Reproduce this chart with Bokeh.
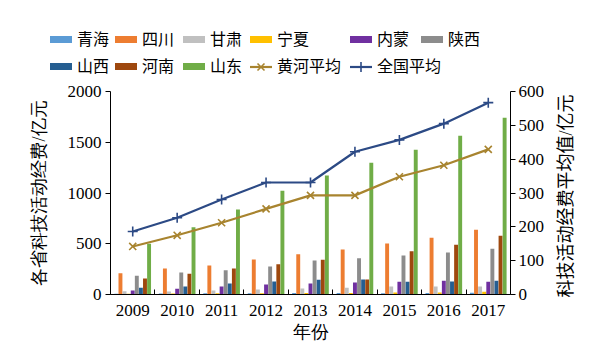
from bokeh.plotting import figure
from bokeh.layouts import row, column
from bokeh.models import (ColumnDataSource, Range1d, LinearAxis, FixedTicker, Div)
from bokeh.transform import dodge
from bokeh.embed import file_html
from bokeh.resources import INLINE

# ---------------- data ----------------
years = ["2009", "2010", "2011", "2012", "2013", "2014", "2015", "2016", "2017"]
qinghai = [7, 10, 12, 13, 14, 14, 12, 14, 18]
sichuan = [210, 256, 286, 345, 397, 443, 502, 559, 637]
gansu = [33, 30, 39, 49, 59, 66, 79, 79, 79]
ningxia = [8, 10, 12, 13, 14, 15, 20, 20, 28]
neimeng = [40, 56, 79, 98, 108, 118, 125, 135, 125]
shaanxi = [184, 217, 240, 276, 335, 358, 384, 414, 450]
shanxi = [66, 79, 108, 128, 145, 148, 125, 128, 135]
henan = [158, 204, 256, 299, 342, 148, 427, 490, 580]
shandong = [500, 663, 837, 1021, 1172, 1297, 1425, 1563, 1741]
huanghe_avg = [142, 175, 212, 253, 293, 293, 348, 382, 429]
national_avg = [186, 227, 281, 331, 331, 422, 457, 505, 567]

bar_names = ["青海", "四川", "甘肃", "宁夏", "内蒙", "陕西", "山西", "河南", "山东"]
bar_values = [qinghai, sichuan, gansu, ningxia, neimeng, shaanxi, shanxi, henan, shandong]
bar_colors = ["#5B9BD5", "#ED7D31", "#C0C0C0", "#FFC000", "#7030A0",
              "#8C8C8C", "#255E91", "#9E480E", "#70AD47"]
line_names = ["黄河平均", "全国平均"]
line_colors = ["#A8842F", "#2C4A85"]
line_markers = ["x", "cross"]
left_title = "各省科技活动经费/亿元"
right_title = "科技活动经费平均值/亿元"
x_title = "年份"

SERIF = "Liberation Serif"
CSS_FONT = "'Liberation Serif', 'Noto Sans CJK SC', serif"
FS = "17px"
LFS = "18px"

W, H = 607, 352
LEG_H = 81
RIGHT_W = 60

xs = list(range(len(years)))
data = {"x": xs, "huanghe": huanghe_avg, "national": national_avg}
for i, v in enumerate(bar_values):
    data["b%d" % i] = v
src = ColumnDataSource(data)

p = figure(width=W - RIGHT_W, height=H - LEG_H, output_backend="svg", toolbar_location=None,
           x_range=Range1d(-0.5, len(years) - 0.5), y_range=Range1d(0, 2000),
           min_border_left=110, min_border_right=36, min_border_top=10,
           min_border_bottom=58)
p.extra_y_ranges = {"right": Range1d(0, 600)}
p.outline_line_color = None
p.xgrid.visible = False
p.ygrid.visible = False

step = 0.092
for i, (name, color) in enumerate(zip(bar_names, bar_colors)):
    p.vbar(x=dodge("x", (i - 4) * step), top="b%d" % i, width=0.088,
           source=src, fill_color=color, line_color=None)

for key, color, marker in zip(["huanghe", "national"], line_colors, line_markers):
    p.line("x", key, source=src, y_range_name="right",
           line_color=color, line_width=2.2)
    p.scatter("x", key, source=src, y_range_name="right", marker=marker,
              size=10, line_color=color, line_width=1.6)

# axes styling
def style_axis(ax):
    ax.major_label_text_font = SERIF
    ax.major_label_text_font_size = FS
    ax.major_label_text_color = "black"
    ax.axis_line_color = "black"
    ax.axis_line_width = 1
    ax.axis_label_text_font = SERIF
    ax.axis_label_text_font_size = LFS
    ax.axis_label_text_font_style = "normal"
    ax.axis_label_text_color = "black"
    ax.minor_tick_line_color = None

yl = p.yaxis[0]
yl.ticker = FixedTicker(ticks=[0, 500, 1000, 1500, 2000])
yl.axis_label = left_title
style_axis(yl)
yl.major_tick_out = 5
yl.major_tick_in = 0
yl.major_tick_line_color = "black"
yl.major_label_standoff = 4
yl.axis_label_standoff = 16

yr = LinearAxis(y_range_name="right", ticker=FixedTicker(ticks=[0, 100, 200, 300, 400, 500, 600]))
style_axis(yr)
yr.major_tick_out = 5
yr.major_tick_in = 0
yr.major_tick_line_color = "black"
yr.major_label_standoff = 3
p.add_layout(yr, "right")

xa = p.xaxis[0]
xa.ticker = FixedTicker(ticks=xs, minor_ticks=[i - 0.5 for i in range(len(years) + 1)])
xa.major_label_overrides = {i: y for i, y in enumerate(years)}
xa.axis_label = x_title
style_axis(xa)
xa.major_tick_line_color = None
xa.minor_tick_line_color = "black"
xa.minor_tick_in = 5
xa.minor_tick_out = 0
xa.major_label_standoff = 4
xa.axis_label_standoff = 3

# ---------------- legend strip (HTML) ----------------
col_x = [50, 115, 183, 250, 350, 421]
row_y = [40, 67]
entries = [(n, c, None) for n, c in zip(bar_names, bar_colors)] + \
          [(n, c, m) for n, c, m in zip(line_names, line_colors, line_markers)]
parts = []
for k, (name, color, marker) in enumerate(entries):
    r, c = divmod(k, 6)
    x0, yc = col_x[c], row_y[r]
    if marker is None:
        parts.append('<span style="position:absolute;left:%dpx;top:%dpx;width:22px;'
                     'height:7px;background:%s"></span>' % (x0, yc - 4, color))
    else:
        if marker == "x":
            mk = '<path d="M7.5 2.5 L14.5 9.5 M14.5 2.5 L7.5 9.5" stroke="%s" stroke-width="1.6"/>' % color
        else:
            mk = '<path d="M11 1 L11 11 M6 6 L16 6" stroke="%s" stroke-width="1.6"/>' % color
        parts.append('<svg style="position:absolute;left:%dpx;top:%dpx" width="22" height="12">'
                     '<line x1="0" y1="6" x2="22" y2="6" stroke="%s" stroke-width="2.2"/>%s</svg>'
                     % (x0, yc - 6, color, mk))
    parts.append('<span style="position:absolute;left:%dpx;top:%dpx;line-height:20px;'
                 'white-space:nowrap">%s</span>' % (x0 + 27, yc - 10, name))
legend_html = ('<div style="position:relative;width:%dpx;height:%dpx;font-family:%s;'
               'font-size:16px;color:black">%s</div>' % (W, LEG_H, CSS_FONT, "".join(parts)))
legend_div = Div(text=legend_html, width=W, height=LEG_H, margin=0)

# ---------------- right-hand axis title (reads bottom to top) ----------------
right_html = ('<div style="position:relative;width:%dpx;height:%dpx">'
              '<span style="position:absolute;left:19px;top:%dpx;white-space:nowrap;'
              'transform:translate(-50%%,-50%%) rotate(-90deg);font-family:%s;'
              'font-size:%s;color:black;line-height:20px">%s</span></div>'
              % (RIGHT_W, H - LEG_H, 196 - LEG_H, CSS_FONT, LFS, right_title))
right_div = Div(text=right_html, width=RIGHT_W, height=H - LEG_H, margin=0)

layout = column(legend_div, row(p, right_div, spacing=0), spacing=0)
open("out.html", "w").write(file_html(layout, INLINE))
